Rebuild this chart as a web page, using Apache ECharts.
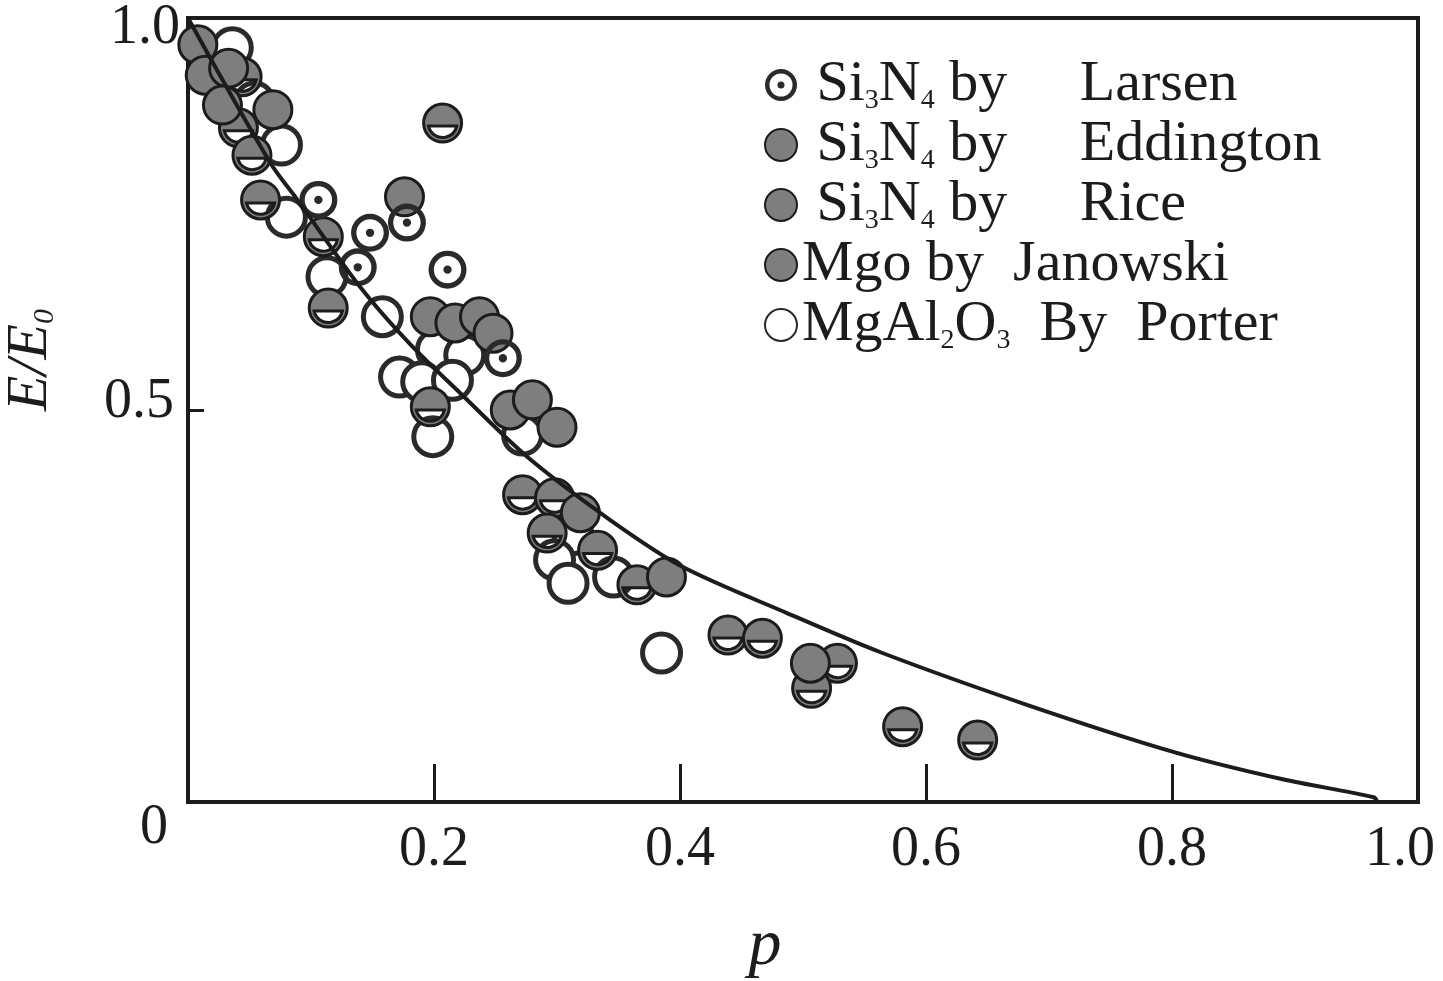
<!DOCTYPE html>
<html>
<head>
<meta charset="utf-8">
<title>E/E0 - p</title>
<script src="https://cdn.jsdelivr.net/npm/echarts@6/dist/echarts.min.js"></script>
<style>
html, body { margin: 0; padding: 0; background: #fff; }
#main { width: 1443px; height: 981px; }
</style>
</head>
<body>
<div id="main"></div>
<script>
// 数据点 [p, E/E0]
var larsenData = [[0.106, 0.768], [0.148, 0.726], [0.178, 0.739], [0.138, 0.682], [0.211, 0.679], [0.256, 0.566]];
var eddingtonData = [[0.008, 0.966], [0.014, 0.927], [0.033, 0.936], [0.028, 0.889], [0.069, 0.883], [0.176, 0.772],
    [0.319, 0.369], [0.389, 0.287], [0.506, 0.177]];
var riceData = [[0.044, 0.925], [0.041, 0.860], [0.052, 0.825], [0.059, 0.768], [0.110, 0.721], [0.114, 0.630],
    [0.207, 0.866], [0.197, 0.504], [0.272, 0.392], [0.298, 0.388], [0.292, 0.343], [0.333, 0.321], [0.365, 0.277],
    [0.439, 0.213], [0.467, 0.209], [0.528, 0.177], [0.507, 0.145], [0.581, 0.096], [0.642, 0.079]];
var janowskiData = [[0.197, 0.619], [0.217, 0.611], [0.237, 0.619], [0.248, 0.598], [0.262, 0.500], [0.280, 0.513], [0.300, 0.478]];
var porterData = [[0.036, 0.962], [0.054, 0.893], [0.076, 0.838], [0.080, 0.746], [0.113, 0.670], [0.158, 0.619],
    [0.172, 0.542], [0.202, 0.577], [0.225, 0.570], [0.190, 0.536], [0.215, 0.538], [0.199, 0.466], [0.272, 0.468],
    [0.313, 0.341], [0.298, 0.309], [0.309, 0.279], [0.346, 0.287], [0.385, 0.190]];
// 拟合曲线
var curveData = [[0, 1.0], [0.067, 0.815], [0.089, 0.768], [0.140, 0.657], [0.180, 0.585], [0.221, 0.522], [0.276, 0.440],
    [0.343, 0.360], [0.402, 0.300], [0.487, 0.241], [0.563, 0.191], [0.682, 0.124], [0.801, 0.064], [0.890, 0.029],
    [0.964, 0.006], [0.967, 0]];

var legendNames = ['Si3N4 by Larsen', 'Si3N4 by Eddington', 'Si3N4 by Rice', 'Mgo by Janowski', 'MgAl2O3 By Porter'];
var legendTexts = {
    'Si3N4 by Larsen': ' Si{s|3}N{s|4} by     Larsen',
    'Si3N4 by Eddington': ' Si{s|3}N{s|4} by     Eddington',
    'Si3N4 by Rice': ' Si{s|3}N{s|4} by     Rice',
    'Mgo by Janowski': 'Mgo by  Janowski',
    'MgAl2O3 By Porter': 'MgAl{s|2}O{s|3}  By  Porter'
};

var serif = '"Liberation Serif", "Times New Roman", serif';
var grey = '#7e7e7e';
var ink = '#1c1c1c';

// 靶心、半空心的符号
var bullseye = 'path://M0 50A50 50 0 1 1 100 50A50 50 0 1 1 0 50ZM14 50A36 36 0 1 0 86 50A36 36 0 1 0 14 50ZM39 50A11 11 0 1 1 61 50A11 11 0 1 1 39 50Z';
var halfMoon = 'path://M0 50A50 50 0 1 1 100 50A50 50 0 1 1 0 50ZM87.15 58L12.85 58A38 38 0 0 0 87.15 58Z';

var myChart = echarts.init(document.getElementById('main'));

var option = {
    backgroundColor: '#fff',
    animation: false,
    grid: {
        left: 188, right: 25, top: 18, bottom: 179,
        outerBoundsMode: 'none', containLabel: false,
        show: true, borderColor: ink, borderWidth: 4
    },
    legend: {
        orient: 'vertical',
        left: 759, top: 50,
        itemWidth: 32, itemHeight: 32, itemGap: 0,
        data: [
            {name: legendNames[0]},
            {name: legendNames[1]},
            {name: legendNames[2], icon: 'circle'},
            {name: legendNames[3]},
            {name: legendNames[4]}
        ],
        formatter: function (name) {
            return legendTexts[name];
        },
        textStyle: {
            fontFamily: serif, fontSize: 58, color: ink, lineHeight: 60,
            rich: {
                s: {fontFamily: serif, fontSize: 28, color: ink, verticalAlign: 'bottom', lineHeight: 26}
            }
        }
    },
    xAxis: {
        type: 'value', min: 0, max: 1, interval: 0.2,
        name: 'p', nameLocation: 'middle', nameGap: 112,
        nameTextStyle: {fontFamily: serif, fontStyle: 'italic', fontSize: 66, color: ink, padding: [0, 76, 0, 0]},
        axisLine: {show: false},
        axisTick: {show: true, inside: true, length: 38, lineStyle: {color: ink, width: 3}},
        splitLine: {show: false},
        axisLabel: {
            margin: 20, fontFamily: serif, fontSize: 56, color: ink,
            formatter: function (v) {
                if (v === 0) return '';
                if (v === 1) return '{r|1.0}';
                return v.toFixed(1);
            },
            rich: {
                r: {fontFamily: serif, fontSize: 56, color: ink, padding: [0, 36, 10, 0]}
            }
        }
    },
    yAxis: {
        type: 'value', min: 0, max: 1, interval: 0.5,
        name: 'E/E{sub|0}', nameLocation: 'middle', nameGap: 128, nameRotate: 90,
        nameTextStyle: {
            fontFamily: serif, fontStyle: 'italic', fontSize: 58, color: ink, padding: [0, 0, 0, 100],
            rich: {sub: {fontFamily: serif, fontSize: 30, color: ink, verticalAlign: 'bottom', lineHeight: 30}}
        },
        axisLine: {show: false},
        axisTick: {show: true, inside: true, length: 16, lineStyle: {color: ink, width: 3}},
        splitLine: {show: false},
        axisLabel: {
            margin: 8, fontFamily: serif, fontSize: 56, color: ink,
            formatter: function (v) {
                if (v === 0) return '{z|0}';
                if (v === 1) return '{t|1.0}';
                return '{m|' + v.toFixed(1) + '}';
            },
            rich: {
                z: {fontFamily: serif, fontSize: 56, color: ink, padding: [52, 12, 0, 0]},
                t: {fontFamily: serif, fontSize: 56, color: ink, padding: [20, 0, 0, 0]},
                m: {fontFamily: serif, fontSize: 56, color: ink, padding: [0, 6, 16, 0]}
            }
        }
    },
    series: [
        {
            name: legendNames[4], type: 'scatter', data: porterData, symbol: 'circle', symbolSize: 38,
            itemStyle: {color: '#fff', borderColor: '#2a2a2a', borderWidth: 5, opacity: 1}
        },
        {
            name: legendNames[2], type: 'scatter', data: riceData, symbol: halfMoon, symbolSize: 38,
            itemStyle: {color: grey, borderColor: ink, borderWidth: 3, opacity: 1}
        },
        {
            name: legendNames[1], type: 'scatter', data: eddingtonData, symbol: 'circle', symbolSize: 38,
            itemStyle: {color: grey, borderColor: ink, borderWidth: 3, opacity: 1}
        },
        {
            name: legendNames[3], type: 'scatter', data: janowskiData, symbol: 'circle', symbolSize: 38,
            itemStyle: {color: grey, borderColor: ink, borderWidth: 3, opacity: 1}
        },
        {
            name: legendNames[0], type: 'scatter', data: larsenData, symbol: bullseye, symbolSize: 38,
            itemStyle: {color: '#2a2a2a', borderWidth: 0, opacity: 1}
        },
        {
            name: 'curve', type: 'line', data: curveData, smooth: 0.3, symbol: 'none', z: 5,
            lineStyle: {color: ink, width: 4}
        }
    ]
};

myChart.setOption(option);
</script>
</body>
</html>
